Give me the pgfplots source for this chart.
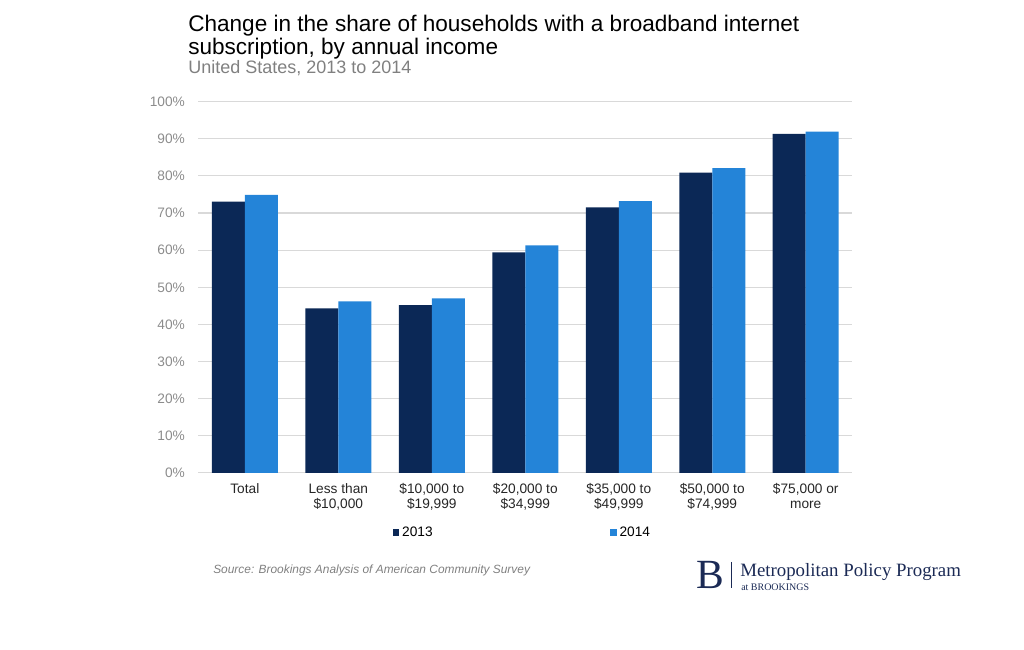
\documentclass[border=0pt]{standalone}
\usepackage{fontspec}
\setmainfont{Liberation Sans}
\newfontfamily\seriffont{Liberation Serif}
\usepackage{pgfplots}
\pgfplotsset{compat=1.18}
\definecolor{c13}{RGB}{11,40,86}
\definecolor{c14}{RGB}{36,132,216}
\definecolor{gridc}{RGB}{217,217,217}
\definecolor{tickc}{RGB}{140,140,140}
\definecolor{subc}{RGB}{128,128,128}
\definecolor{navy}{RGB}{27,42,85}
\begin{document}
\begin{tikzpicture}[x=0.01in,y=0.01in]
\useasboundingbox (0,0) rectangle (1024,650);
\node[anchor=base west, align=left, inner sep=0, font=\fontsize{16.3}{17.0}\selectfont] at (188,595) {Change in the share of households with a broadband internet\\subscription, by annual income};
\node[anchor=base west, inner sep=0, text=subc, font=\fontsize{13}{15}\selectfont] at (188,576) {United States, 2013 to 2014};
\begin{axis}[
  at={(1.98in,1.77in)}, anchor=south west,
  width=6.54in, height=3.71in, scale only axis,
  xmin=-0.5, xmax=6.5, ymin=0, ymax=100,
  ytick={0,10,...,100},
  yticklabel={\pgfmathprintnumber{\tick}\%},
  yticklabel style={text=tickc, font=\fontsize{9.9}{11}\selectfont, xshift=-6pt},
  /pgf/number format/assume math mode=true,
  xtick={0,...,6},
  xticklabels={{Total},{Less than\\\$10,000},{\$10,000 to\\\$19,999},{\$20,000 to\\\$34,999},{\$35,000 to\\\$49,999},{\$50,000 to\\\$74,999},{\$75,000 or\\more}},
  xticklabel style={align=center, font=\fontsize{9.9}{11}\selectfont, text=black!85, yshift=-4pt},
  major tick length=0pt,
  ymajorgrids, grid style={gridc, line width=0.8pt},
  axis line style={draw=none},
  legend style={at={(0.496,-0.16)}, anchor=center, draw=none, fill=none, legend columns=2,
    font=\fontsize{9.9}{11}\selectfont,
    /tikz/every even column/.append style={column sep=126pt}},
  legend image code/.code={\fill[#1] (0pt,-2.5pt) rectangle (5pt,2.5pt);},
]
\addplot[ybar, fill=c13, draw=none, bar width=0.353, bar shift=-0.1765] coordinates {
(0,73.1) (1,44.3) (2,45.2) (3,59.4) (4,71.5) (5,80.9) (6,91.3)};
\addplot[ybar, fill=c14, draw=none, bar width=0.353, bar shift=0.1765] coordinates {
(0,74.9) (1,46.2) (2,47.0) (3,61.3) (4,73.2) (5,82.1) (6,91.9)};
\legend{2013,2014}
\end{axis}
\node[anchor=west, inner sep=0, text=subc, font=\itshape\fontsize{8.6}{10}\selectfont] at (213,80) {Source: Brookings Analysis of American Community Survey};
\node[anchor=base west, inner sep=0, text=navy, font=\seriffont\fontsize{30}{30}\selectfont] at (696,61) {B};
\draw[navy, line width=0.5pt] (731,88) -- (731,62);
\node[anchor=base west, inner sep=0, text=navy, font=\seriffont\fontsize{13.6}{15}\selectfont] at (740,73) {Metropolitan Policy Program};
\node[anchor=base west, inner sep=0, text=navy, font=\seriffont\fontsize{7.2}{8}\selectfont] at (741,59) {at BROOKINGS};
\end{tikzpicture}
\end{document}
